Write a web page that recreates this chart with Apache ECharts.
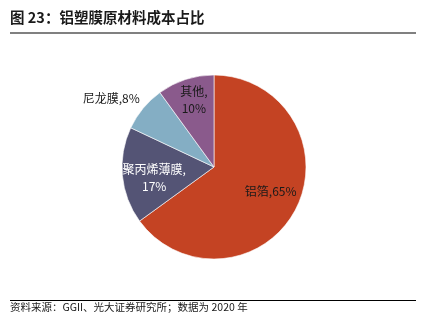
<!DOCTYPE html>
<html><head><meta charset="utf-8">
<script src="https://cdn.jsdelivr.net/npm/echarts@6/dist/echarts.min.js"></script>
<style>html,body{margin:0;padding:0;background:#fff;}#c{width:422px;height:326px;}</style>
</head><body><div id="c"></div>
<script>
var titleText = '图 23：铝塑膜原材料成本占比';
var sourceText = '资料来源：GGII、光大证券研究所；数据为 2020 年';
var categories = ['铝箔', '聚丙烯薄膜', '尼龙膜', '其他'];
var values = [65, 17, 8, 10];
var colors = ['#C44323', '#545475', '#84AEC4', '#8A5A8C'];
var labelColors = ['#1a1a1a', '#ffffff', '#1a1a1a', '#1a1a1a'];
var labelFormats = ['{b},{d}%', '{b},\n{d}%', '{b},{d}%', '{b},\n{d}%'];
var labelOffsets = [[13, 2], [-11, 6], [-65, -37], [-5, -20]];

var font = '"Noto Sans CJK SC", "Noto Sans", sans-serif';
var chart = echarts.init(document.getElementById('c'), null, {renderer: 'canvas'});
var data = categories.map(function (c, i) {
  return {
    name: c, value: values[i],
    itemStyle: {color: colors[i]},
    label: {color: labelColors[i], formatter: labelFormats[i], offset: labelOffsets[i]}
  };
});
chart.setOption({
  animation: false,
  backgroundColor: '#fff',
  graphic: [
    {type: 'text', left: 10, top: 10, style: {text: titleText, font: 'bold 14.5px ' + font, fill: '#1a1a1a'}},
    {type: 'rect', shape: {x: 10, y: 32, width: 406, height: 2}, style: {fill: '#808080'}},
    {type: 'rect', shape: {x: 10, y: 300, width: 406, height: 1}, style: {fill: '#000'}},
    {type: 'text', left: 10, top: 302, style: {text: sourceText, font: '10.5px ' + font, fill: '#1a1a1a'}}
  ],
  series: [{
    type: 'pie',
    center: [214, 167],
    radius: [0, 92],
    startAngle: 90,
    clockwise: true,
    data: data,
    itemStyle: {borderColor: '#ffffff', borderWidth: 0.6},
    label: {show: true, position: 'inside', fontSize: 12, fontFamily: font, lineHeight: 17, align: 'center'},
    labelLine: {show: false},
    emphasis: {disabled: true}
  }]
});
</script></body></html>
